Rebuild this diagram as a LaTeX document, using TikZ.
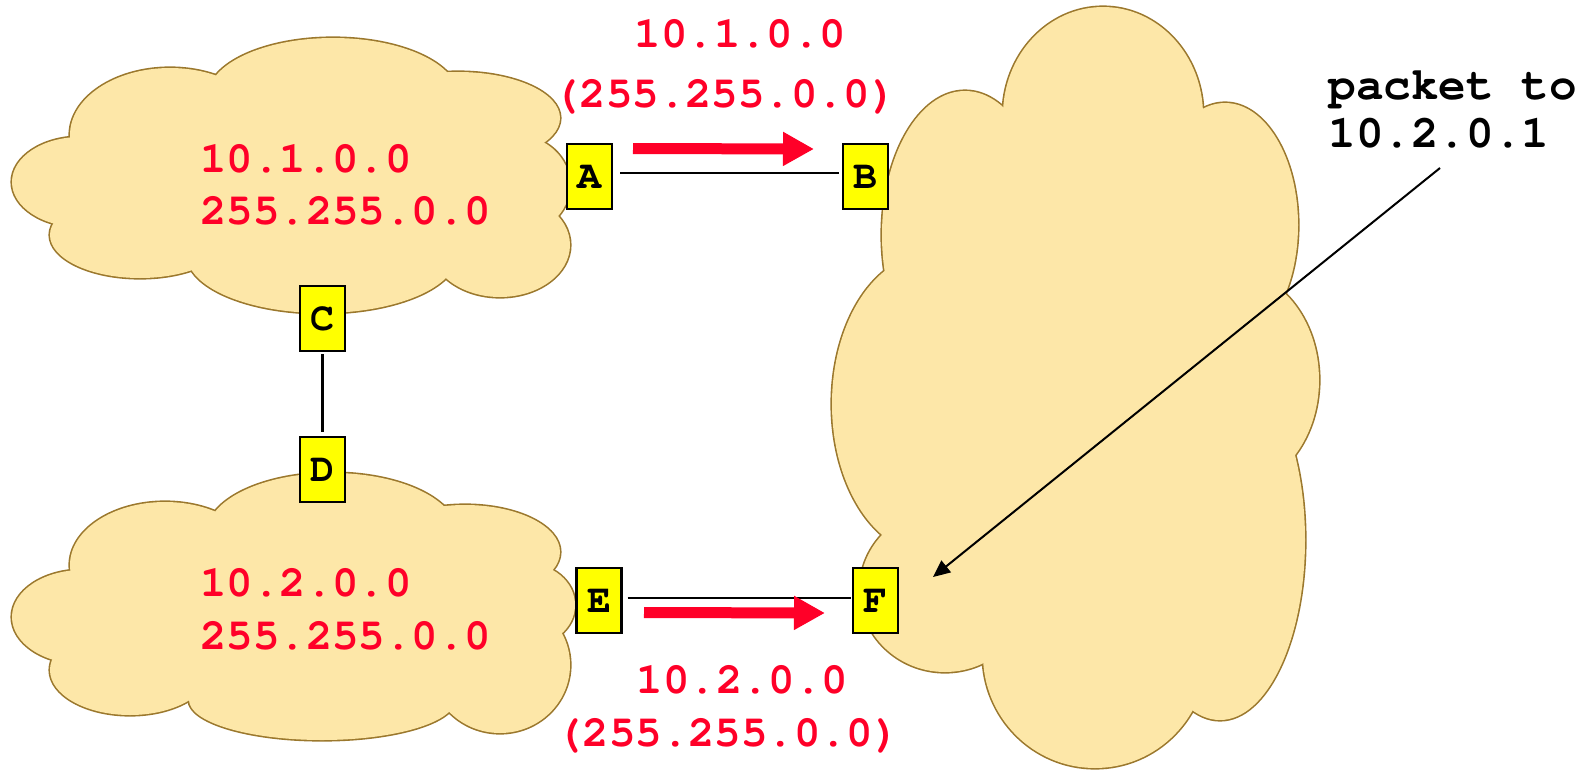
\documentclass[tikz,border=0pt]{standalone}
\usepackage{fontspec}
\setmonofont{TeX Gyre Cursor}
\usetikzlibrary{arrows.meta}
\definecolor{cloudfill}{RGB}{253,231,168}
\definecolor{cloudline}{RGB}{155,120,45}
\definecolor{netred}{RGB}{255,0,40}
\definecolor{boxyellow}{RGB}{255,255,0}
\begin{document}
\begin{tikzpicture}[x=0.5pt,y=-0.5pt,
  port/.style={draw=black, line width=1.2pt, fill=boxyellow, minimum width=22.5pt, minimum height=32.5pt, inner sep=0pt, font=\ttfamily\bfseries\fontsize{20}{20}\selectfont},
  redtxt/.style={text=netred, inner sep=0pt, font=\ttfamily\bfseries\fontsize{22}{26}\selectfont},
  blktxt/.style={text=black, inner sep=0pt, font=\ttfamily\bfseries\fontsize{23}{28}\selectfont},
  link/.style={line width=1.2pt},
  route/.style={draw=netred, line width=5.5pt, -{Triangle[length=15.5pt,width=16pt]}},
  pointer/.style={line width=1pt, -{Triangle[length=8.5pt,width=7.5pt]}},
  cloudedge/.style={draw=cloudline, line width=1.6pt},
  cloudbody/.style={fill=cloudfill},
]
\useasboundingbox (0,0) rectangle (1587,772);

% ---- top-left cloud
\foreach \cx/\cy/\rx/\ry in {80/182/68/45,170/135/100/67,333/96/125/58,458/118/102/46,515/185/55/50,500/245/70/52,322/255/135/58,140/235/90/43}
  \draw[cloudedge] (\cx,\cy) ellipse [x radius=\rx, y radius=\ry];
\foreach \cx/\cy/\rx/\ry in {80/182/68/45,170/135/100/67,333/96/125/58,458/118/102/46,515/185/55/50,500/245/70/52,322/255/135/58,140/235/90/43}
  \fill[cloudbody] (\cx,\cy) ellipse [x radius=\rx, y radius=\ry];
\fill[cloudbody] (85,145) -- (222,85) -- (445,84) -- (535,145) -- (555,215) -- (445,275) -- (195,258) -- (62,218) -- cycle;

% ---- bottom-left cloud
\foreach \cx/\cy/\rx/\ry in {82/617/70/47,165/565/95/63,332/533/125/60,465/552/95/47,525/605/50/42,500/665/70/68,322/700/133/40,130/670/80/45}
  \draw[cloudedge] (\cx,\cy) ellipse [x radius=\rx, y radius=\ry];
\foreach \cx/\cy/\rx/\ry in {82/617/70/47,165/565/95/63,332/533/125/60,465/552/95/47,525/605/50/42,500/665/70/68,322/700/133/40,130/670/80/45}
  \fill[cloudbody] (\cx,\cy) ellipse [x radius=\rx, y radius=\ry];
\fill[cloudbody] (88,578) -- (218,522) -- (445,518) -- (540,575) -- (555,635) -- (450,712) -- (198,695) -- (62,652) -- cycle;

% ---- right cloud
\foreach \cx/\cy/\rx/\ry in {1103/115/100/108,1225/225/73/122,1230/380/89/110,1220/540/85/180,1095/655/112/113,945/590/85/82,930/404/98/150,965/235/83/144}
  \draw[cloudedge] (\cx,\cy) ellipse [x radius=\rx, y radius=\ry];
\foreach \cx/\cy/\rx/\ry in {1103/115/100/108,1225/225/73/122,1230/380/89/110,1220/540/85/180,1095/655/112/113,945/590/85/82,930/404/98/150,965/235/83/144}
  \fill[cloudbody] (\cx,\cy) ellipse [x radius=\rx, y radius=\ry];
\fill[cloudbody] (1010,125) -- (1198,115) -- (1278,285) -- (1292,463) -- (1198,690) -- (990,640) -- (875,525) -- (893,285) -- cycle;

% ---- cloud texts
\node[redtxt, anchor=base west] (n1a) at (200,172) {10.1.0.0};
\node[redtxt, anchor=base west] (n1b) at (200,224) {255.255.0.0};
\node[redtxt, anchor=base west] (n2a) at (200,596) {10.2.0.0};
\node[redtxt, anchor=base west] (n2b) at (200,649) {255.255.0.0};

% ---- ports
\node[port] (A) at (589.5,176.5) {A};
\node[port] (B) at (865.5,176.5) {B};
\node[port] (C) at (322.5,318.5) {C};
\node[port] (D) at (322.5,469.5) {D};
\node[port] (E) at (599,600.5) {E};
\node[port] (F) at (875.5,600.5) {F};

% ---- links
\draw[link, shorten <=3.5pt, shorten >=1.5pt] ([yshift=1.75pt]A.east) -- ([yshift=1.75pt]B.west);
\draw[link, shorten <=2.5pt, shorten >=0.5pt] ([yshift=1.25pt]E.east) -- ([yshift=1.25pt]F.west);
\draw[link, shorten <=1pt, shorten >=2pt] (C) -- (D);

% ---- route arrows and labels
\coordinate (t1) at (633,148.5);
\coordinate (t2) at (814,149);
\draw[route] (t1) -- (t2);
\coordinate (b1) at (644,612.5);
\coordinate (b2) at (825,613);
\draw[route] (b1) -- (b2);
\node[redtxt, anchor=base] (r1a) at (740.5,47) {10.1.0.0};
\node[redtxt, anchor=base] (r1b) at (725,107) {(255.255.0.0)};
\node[redtxt, anchor=base] (r2a) at (742.5,693) {10.2.0.0};
\node[redtxt, anchor=base] (r2b) at (728,746) {(255.255.0.0)};

% ---- packet pointer
\node[blktxt, anchor=base west] (p1) at (1328,99) {packet to};
\node[blktxt, anchor=base west] (p2) at (1328,147) {10.2.0.1};
\coordinate (pk) at (1440,168);
\coordinate (pt) at (933,577);
\draw[pointer] (pk) -- (pt);
\end{tikzpicture}
\end{document}
